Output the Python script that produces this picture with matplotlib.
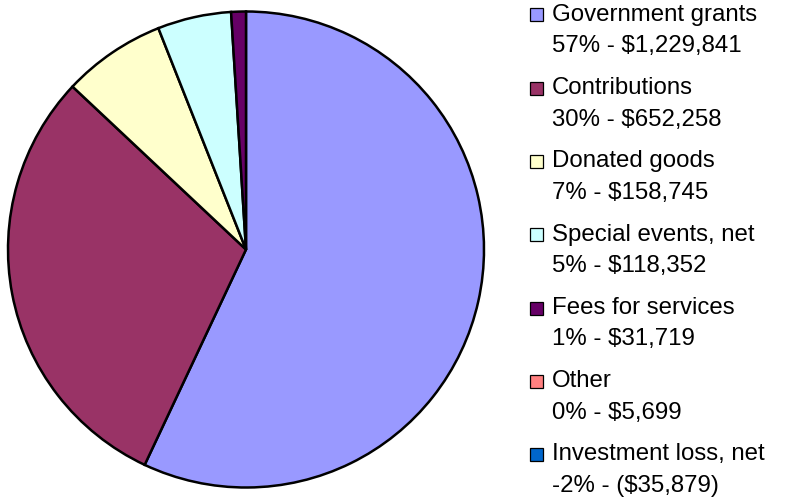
import matplotlib
matplotlib.use("Agg")
import matplotlib.pyplot as plt
from matplotlib.patches import Rectangle

# Revenue sources, as shown in the legend.
categories = [
    "Government grants",
    "Contributions",
    "Donated goods",
    "Special events, net",
    "Fees for services",
    "Other",
    "Investment loss, net",
]
percents = [57, 30, 7, 5, 1, 0, -2]
amounts = ["$1,229,841", "$652,258", "$158,745", "$118,352", "$31,719", "$5,699", "($35,879)"]
colors = ["#9999FF", "#993366", "#FFFFCC", "#CCFFFF", "#660066", "#FF8080", "#0066CC"]

W, H = 789, 503
fig = plt.figure(figsize=(W / 100, H / 100), dpi=100)
plt.rcParams["font.family"] = ["Liberation Sans", "DejaVu Sans"]


# Convert pixel coordinates (origin top-left) to figure fractions.
def fx(x):
    return x / W


def fy(y):
    return 1 - y / H


# Pie: only the positive shares get a wedge, clockwise from 12 o'clock.
cx, cy, r = 246, 249.5, 238
ax = fig.add_axes([fx(cx - r), fy(cy + r), 2 * r / W, 2 * r / H])
vals = [p for p in percents if p > 0]
cols = [c for p, c in zip(percents, colors) if p > 0]
ax.pie(vals, colors=cols, startangle=90, counterclock=False,
       wedgeprops=dict(edgecolor="black", linewidth=1.8))
ax.set_xlim(-1.0, 1.0)
ax.set_ylim(-1.0, 1.0)
ax.set_aspect("equal")
ax.axis("off")

# Legend drawn by hand: square, name line, then "pct - amount" line.
step = 73.3
for i, (name, pct, amt, col) in enumerate(zip(categories, percents, amounts, colors)):
    top = 8.3 + i * step
    fig.patches.append(Rectangle((fx(530), fy(top + 13)), 13 / W, 13 / H,
                                 transform=fig.transFigure, facecolor=col,
                                 edgecolor="black", linewidth=0.9))
    fig.text(fx(552), fy(20.7 + i * step), name, fontsize=17.3, va="baseline",
             ha="left", color="black")
    fig.text(fx(552), fy(52.3 + i * step), f"{pct}% - {amt}", fontsize=17.3,
             va="baseline", ha="left", color="black")

fig.savefig("out.png", dpi=100, facecolor="white")
